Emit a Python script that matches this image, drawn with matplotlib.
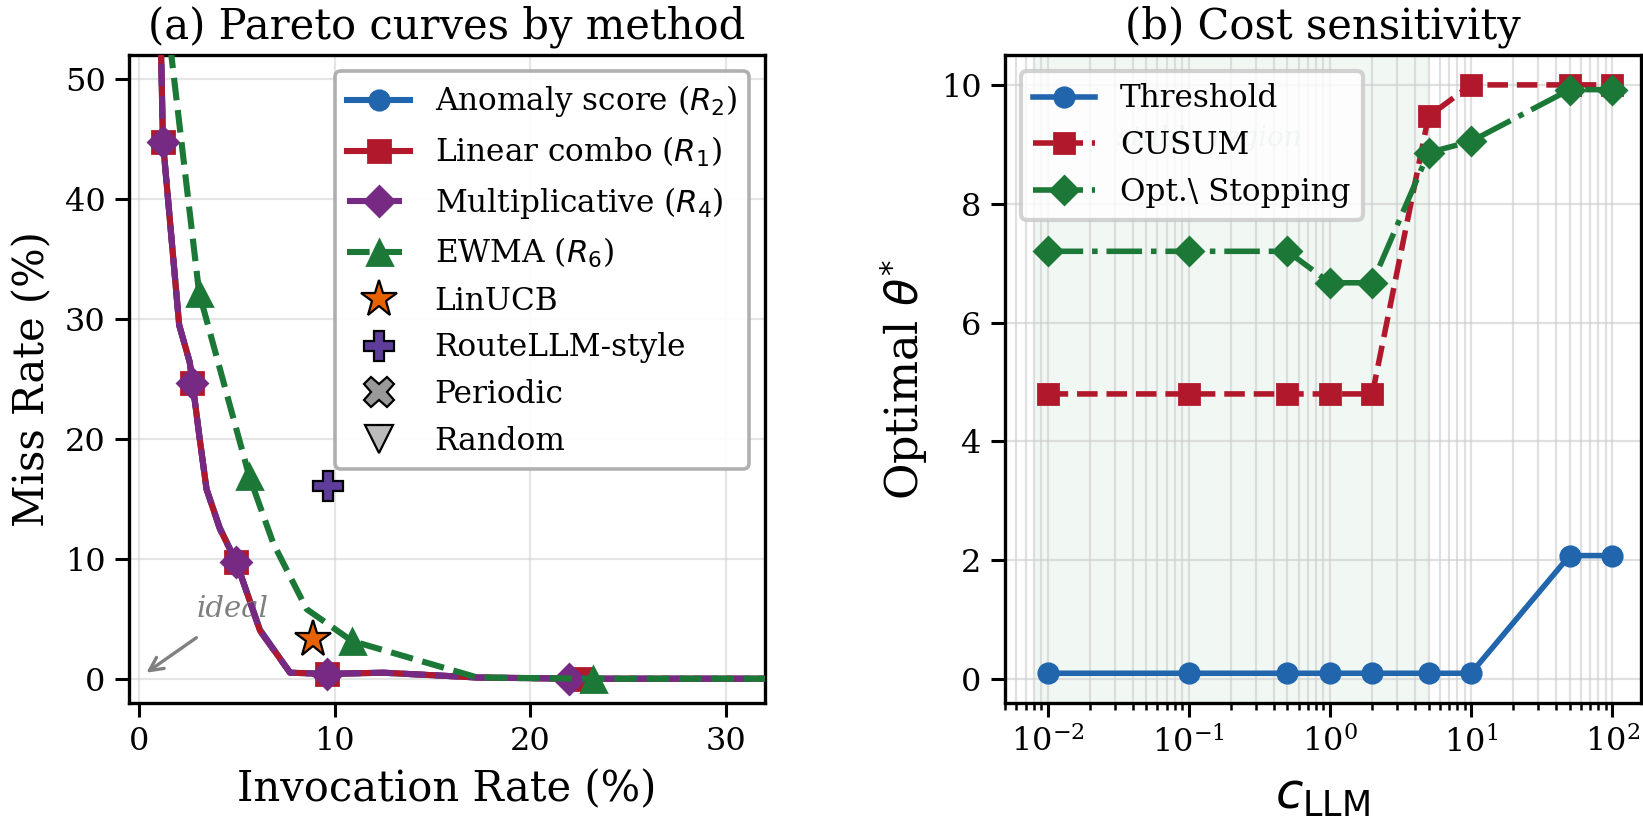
import matplotlib
matplotlib.use('Agg')
import matplotlib.pyplot as plt
from matplotlib.ticker import LogLocator, NullFormatter

plt.rcParams.update({
    'font.family': ['DejaVu Serif'],
    'mathtext.fontset': 'dejavusans',
    'axes.linewidth': 1.2,
    'xtick.major.width': 1.1, 'ytick.major.width': 1.1,
    'xtick.major.size': 5, 'ytick.major.size': 5,
    'xtick.minor.size': 2.6, 'xtick.minor.width': 0.9,
    'xtick.labelsize': 11.5, 'ytick.labelsize': 11.5,
    'axes.labelsize': 15, 'axes.titlesize': 15,
    'legend.fontsize': 11.2,
})

# ---------------- data: panel (a) ----------------
mult_x = [1.05, 1.22, 2.05, 2.59, 2.73, 3.10, 3.45, 4.13, 4.98, 6.18, 7.72, 9.60, 12.5, 17.3, 22.0, 100.0]
mult_y = [58.0, 44.8, 29.5, 26.4, 24.7, 20.0, 15.8, 12.5, 9.7, 4.0, 0.5, 0.4, 0.5, 0.1, 0.0, 0.0]
lin_x = [1.05, 1.22, 2.05, 2.59, 2.73, 3.10, 3.45, 4.13, 4.98, 6.18, 7.72, 9.60, 12.5, 17.3, 22.6, 100.0]
lin_y = [58.0, 44.8, 29.5, 26.4, 24.7, 20.0, 15.8, 12.5, 9.7, 4.0, 0.5, 0.4, 0.5, 0.1, 0.0, 0.0]
anom_x = [1.05, 1.22, 2.05, 2.59, 2.73, 3.10, 3.45, 4.13, 4.98, 6.18, 7.72, 9.60, 12.5, 17.3, 22.3, 100.0]
anom_y = [58.0, 44.8, 29.5, 26.4, 24.7, 20.0, 15.8, 12.6, 9.7, 4.1, 0.5, 0.4, 0.5, 0.1, 0.0, 0.0]
curve_marks = [1, 4, 8, 11, 14]
ewma_x = [1.40, 3.07, 5.63, 6.86, 8.57, 10.88, 17.3, 23.2, 100.0]
ewma_y = [55.5, 32.2, 16.9, 11.3, 5.8, 3.15, 0.1, 0.0, 0.0]
ewma_marks = [1, 2, 5, 7]
linucb = (8.91, 3.28)
routellm = (9.68, 16.1)
periodic = (50.0, 50.0)
random_pt = (50.0, 50.0)

# ---------------- data: panel (b) ----------------
c_llm = [0.01, 0.1, 0.5, 1, 2, 5, 10, 50, 100]
thr = [0.1, 0.1, 0.1, 0.1, 0.1, 0.1, 0.1, 2.08, 2.08]
cusum = [4.8, 4.8, 4.8, 4.8, 4.8, 9.47, 10.0, 10.0, 10.0]
optstop = [7.2, 7.2, 7.2, 6.67, 6.67, 8.86, 9.05, 9.92, 9.92]
stable_lo, stable_hi = 0.008, 5.0

BLUE = '#2166ac'
RED = '#b2182b'
PURPLE = '#762a83'
GREEN = '#1b7837'
ORANGE = '#e66101'
VIOLET = '#5e3c99'

fig = plt.figure(figsize=(8.215, 4.115), dpi=200)
ax1 = fig.add_axes([0.0787, 0.1462, 0.3869, 0.7864])
ax2 = fig.add_axes([0.6117, 0.1462, 0.3871, 0.7864])

# ---- panel (a)
ax1.plot(anom_x, anom_y, '-', color=BLUE, lw=2.2, marker='o', ms=7,
         markevery=curve_marks, label=r'Anomaly score ($R_2$)', zorder=2)
ax1.plot(lin_x, lin_y, '-', color=RED, lw=2.2, marker='s', ms=8,
         markevery=curve_marks, label=r'Linear combo ($R_1$)', zorder=3)
ax1.plot(mult_x, mult_y, '--', color=PURPLE, lw=2.2, marker='D', ms=7.5,
         markevery=curve_marks, label=r'Multiplicative ($R_4$)', zorder=4)
ax1.plot(ewma_x, ewma_y, '--', color=GREEN, lw=2.2, marker='^', ms=9,
         markevery=ewma_marks, label=r'EWMA ($R_6$)', zorder=5)
ax1.plot([linucb[0]], [linucb[1]], linestyle='none', marker='*', ms=14,
         color=ORANGE, mec='black', mew=0.8, label='LinUCB', zorder=6)
ax1.plot([routellm[0]], [routellm[1]], linestyle='none', marker='P', ms=11,
         color=VIOLET, mec='black', mew=0.8, label='RouteLLM-style', zorder=6)
ax1.plot([periodic[0]], [periodic[1]], linestyle='none', marker='X', ms=11,
         color='#999999', mec='black', mew=0.8, label='Periodic', zorder=6)
ax1.plot([random_pt[0]], [random_pt[1]], linestyle='none', marker='v', ms=10,
         color='#bbbbbb', mec='black', mew=0.8, label='Random', zorder=6)

ax1.annotate('', xy=(0.37, 0.5), xytext=(2.93, 3.42),
             arrowprops=dict(arrowstyle='->', color='gray', lw=1.2,
                             shrinkA=0, shrinkB=0, mutation_scale=12))
ax1.text(4.8, 5.8, 'ideal', color='gray', fontsize=10.5, style='italic',
         ha='center', va='center')

ax1.set_xlim(-0.5, 32)
ax1.set_ylim(-2, 52)
ax1.set_xticks([0, 10, 20, 30])
ax1.set_yticks([0, 10, 20, 30, 40, 50])
ax1.grid(True, color='#cccccc', alpha=0.5, lw=0.8)
ax1.set_axisbelow(True)
ax1.set_xlabel('Invocation Rate (%)', fontsize=15)
ax1.set_ylabel('Miss Rate (%)', fontsize=15)
ax1.set_title('(a) Pareto curves by method')
leg1 = ax1.legend(loc='upper right', fancybox=True, framealpha=0.9)
leg1.get_frame().set_edgecolor('#a8a8a8')
leg1.get_frame().set_linewidth(1.3)

# ---- panel (b)
ax2.set_xscale('log')
ax2.axvspan(stable_lo, stable_hi, color=GREEN, alpha=0.06, lw=0, zorder=0)
ax2.text(0.14, 9.1, 'stable region', color=GREEN, alpha=0.25, fontsize=10,
         style='italic', ha='center', va='center', zorder=1)
ax2.plot(c_llm, thr, '-', color=BLUE, lw=2, marker='o', ms=7, label='Threshold', zorder=3)
ax2.plot(c_llm, cusum, '--', color=RED, lw=2, marker='s', ms=7, label='CUSUM', zorder=3)
ax2.plot(c_llm, optstop, '-.', color=GREEN, lw=2, marker='D', ms=7, label=r'Opt.\ Stopping', zorder=4)

ax2.xaxis.set_major_locator(LogLocator(base=10, numticks=10))
ax2.xaxis.set_minor_locator(LogLocator(base=10, subs=range(2, 10), numticks=20))
ax2.xaxis.set_minor_formatter(NullFormatter())
ax2.set_yticks([0, 2, 4, 6, 8, 10])
ax2.grid(True, which='major', color='#cccccc', alpha=0.6, lw=0.8)
ax2.grid(True, which='minor', axis='x', color='#cccccc', alpha=0.6, lw=0.8)
ax2.set_axisbelow(True)
ax2.set_xlabel(r'$c_{\mathrm{LLM}}$', fontsize=18)
ax2.set_ylabel(r'Optimal $\theta^{*}$', fontsize=16)
ax2.set_title('(b) Cost sensitivity')
leg2 = ax2.legend(loc='upper left', fancybox=True, framealpha=0.8)
leg2.get_frame().set_edgecolor('#c8c8c8')
leg2.get_frame().set_linewidth(1.5)

fig.savefig('out.png', dpi=200)
